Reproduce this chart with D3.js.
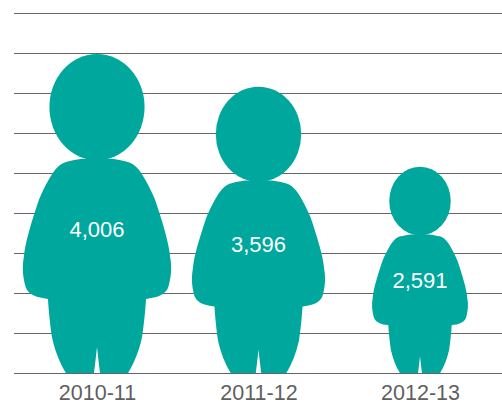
<!DOCTYPE html>
<html>
<head>
<meta charset="utf-8">
<style>
    html, body { margin: 0; padding: 0; background: #fff; }
    svg { display: block; }
    text { font-family: "Liberation Sans", Arial, sans-serif; }
</style>
<script src="https://cdnjs.cloudflare.com/ajax/libs/d3/7.8.5/d3.min.js"></script>
</head>
<body>
<div id="chart"></div>
<script>
var years = ['2010-11', '2011-12', '2012-13'];
var totals = [4006, 3596, 2591];
var gridTicks = [0, 500, 1000, 1500, 2000, 2500, 3000, 3500, 4000, 4500];

(function() {
    'use strict';

    var width = 502, height = 403;
    var teal = '#00a79d', grey = '#666666', labelGrey = '#5f5f5f';

    var svg = d3.select('#chart')
                .append('svg')
                .attr('width', width)
                .attr('height', height);

    var x = d3.scalePoint().domain(years).range([97, 420]);
    var y = d3.scaleLinear().domain([0, 4500]).range([373, 13]);

    // gridlines, drawn by the axis with no domain path
    var grid = svg.append('g')
        .attr('transform', 'translate(14,0)')
        .call(d3.axisRight(y).tickValues(gridTicks).tickSize(width - 14).tickFormat(''));
    grid.select('.domain').remove();
    grid.selectAll('line').attr('stroke', grey).attr('stroke-width', 1);

    // person glyph outline (right half, neck to inner leg), in px of a 320 tall figure
    var glyphH = 320;
    var halfBody = [
        [5, -214, 10, -214, 15, -214],
        [22, -213, 26, -212, 30, -211],
        [34, -210, 37, -208, 40, -205],
        [45, -200, 52, -187, 58, -173],
        [65, -152, 72, -130, 73, -116],
        [75, -105, 74, -95, 71, -85],
        [68, -78, 60, -75, 49, -74],
        [48, -60, 47, -50, 45, -36],
        [42, -22, 37, -10, 31, 0]
    ];

    function personPath() {
        var p = d3.path();
        p.moveTo(0, -214);
        halfBody.forEach(function(s) {
            p.bezierCurveTo(s[0], s[1], s[2], s[3], s[4], s[5]);
        });
        p.lineTo(3, 0);
        p.quadraticCurveTo(1.5, -12, 0, -26);
        p.quadraticCurveTo(-1.5, -12, -3, 0);
        p.lineTo(-31, 0);
        // mirror back up the left side
        for (var i = halfBody.length - 1; i >= 0; i--) {
            var s = halfBody[i];
            var prev = i > 0 ? halfBody[i - 1] : [0, 0, 0, 0, 0, -214];
            p.bezierCurveTo(-s[2], s[3], -s[0], s[1], -prev[4], prev[5]);
        }
        p.closePath();
        return p.toString();
    }

    var figures = svg.selectAll('.person')
        .data(years.map(function(d, i) { return {year: d, total: totals[i]}; }))
        .enter().append('g')
        .attr('class', 'person')
        .attr('transform', function(d) {
            var k = (y(0) - y(d.total)) / glyphH;
            return 'translate(' + x(d.year) + ',' + y(0) + ')scale(' + k + ')';
        })
        .attr('fill', teal);

    figures.append('ellipse')
        .attr('cx', 0).attr('cy', -265.5)
        .attr('rx', 47.5).attr('ry', 53);
    figures.append('path').attr('d', personPath());

    // baseline sits on top of the feet
    svg.append('line')
        .attr('x1', 14).attr('x2', width)
        .attr('y1', y(0) + 0.5).attr('y2', y(0) + 0.5)
        .attr('stroke', grey);

    svg.selectAll('.total')
        .data(totals)
        .enter().append('text')
        .attr('class', 'total')
        .attr('x', function(d, i) { return x(years[i]); })
        .attr('y', function(d) { return y(0) - (y(0) - y(d)) * 0.45 + 8; })
        .attr('text-anchor', 'middle')
        .attr('font-size', 22)
        .attr('fill', '#fff')
        .text(d3.format(','));

    var axis = svg.append('g')
        .attr('transform', 'translate(0,' + y(0) + ')')
        .call(d3.axisBottom(x).tickSize(0).tickPadding(12));
    axis.select('.domain').remove();
    axis.selectAll('text')
        .attr('font-size', 21.5)
        .attr('font-family', '"Liberation Sans", Arial, sans-serif')
        .attr('fill', labelGrey);
})();
</script>
</body>
</html>
